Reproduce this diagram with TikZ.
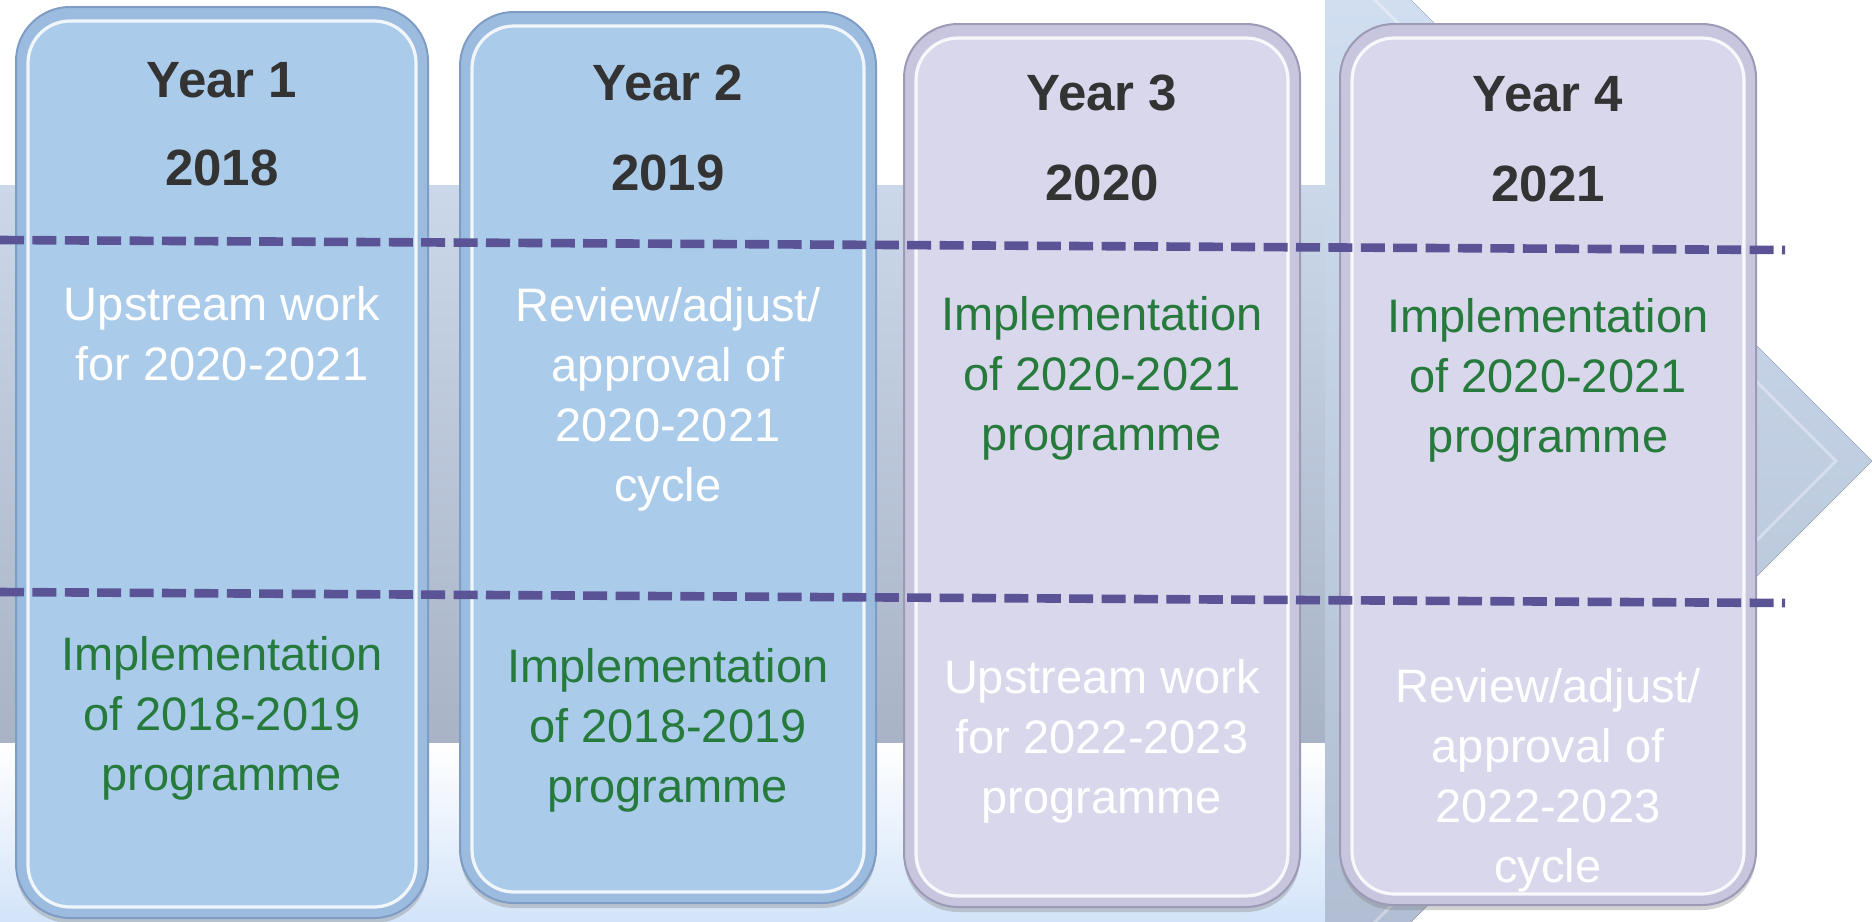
\documentclass[tikz,border=0pt]{standalone}
\usepackage{fontspec}
\setmainfont{Liberation Sans}
\usetikzlibrary{shadows}
\definecolor{yeartext}{HTML}{333333}
\definecolor{greentext}{HTML}{267A3C}
\definecolor{dashcol}{HTML}{5A5496}
\definecolor{bluemain}{HTML}{ABCBEA}
\definecolor{blueband}{HTML}{9CBCDF}
\definecolor{blueedge}{HTML}{7F9DC4}
\definecolor{lilacmain}{HTML}{D9D7EC}
\definecolor{lilacband}{HTML}{C8C5DE}
\definecolor{lilacedge}{HTML}{9D9AB8}
\definecolor{shafttop}{HTML}{CBD8EA}
\definecolor{shaftbot}{HTML}{A8B3C6}
\definecolor{tiptop}{HTML}{D3E1F3}
\definecolor{tipbot}{HTML}{AEBBD0}
\definecolor{glow}{HTML}{D3E4F9}

\begin{document}
\begin{tikzpicture}[x=0.5pt,y=-0.5pt,
   yearbox/.style={rectangle,rounded corners=27pt,line width=1pt,
      drop shadow={shadow xshift=0pt,shadow yshift=-2.5pt,opacity=.35}},
   bluebox/.style={yearbox,draw=blueedge,fill=blueband},
   lilacbox/.style={yearbox,draw=lilacedge,fill=lilacband},
   head/.style={anchor=base,text=yeartext,font=\fontsize{25.5}{30}\selectfont\bfseries},
   body/.style={anchor=base,align=center,font=\fontsize{23.5}{30}\selectfont},
   divider/.style={draw=dashcol,line width=4.3pt,dash pattern=on 12pt off 4.2pt}]
   \useasboundingbox (0,0) rectangle (1872,921);
   \clip (0,0) rectangle (1872,921);

   \fill[top color=white,bottom color=glow] (0,742) rectangle (1325,921);
   \fill[top color=shafttop,bottom color=shaftbot] (0,185) rectangle (1325,742);
   \fill[top color=tiptop,bottom color=tipbot] (1325,-86) -- (1872,461) -- (1325,1008) -- cycle;
   \draw[white,opacity=.35,line width=1.5pt] (1325,-50) -- (1836,461) -- (1325,972);

   \node[bluebox,name=b1,minimum width=206pt,minimum height=455.5pt] at (222,462.5) {};
   \node[bluebox,name=b2,minimum width=208pt,minimum height=445.5pt] at (668,457.5) {};
   \node[lilacbox,name=b3,minimum width=198pt,minimum height=441.5pt] at (1102,465.5) {};
   \node[lilacbox,name=b4,minimum width=208pt,minimum height=440.5pt] at (1548,464.5) {};

   \foreach \b/\c in {b1/bluemain,b2/bluemain,b3/lilacmain,b4/lilacmain}
      \path[draw=white,draw opacity=.85,line width=1.6pt,fill=\c,rounded corners=21pt]
         ([shift={(6.5pt,-7.5pt)}]\b.north west) rectangle ([shift={(-6.5pt,6pt)}]\b.south east);

   \node[head,name=y1] at (222,97) {Year 1};
   \node[head,name=d1] at (222,185) {2018};
   \node[head,name=y2] at (668,100) {Year 2};
   \node[head,name=d2] at (668,190) {2019};
   \node[head,name=y3] at (1102,110) {Year 3};
   \node[head,name=d3] at (1102,200) {2020};
   \node[head,name=y4] at (1548,111) {Year 4};
   \node[head,name=d4] at (1548,201) {2021};

   \node[body,text=white,name=t1] at (222,380) {Upstream work\\for 2020-2021};
   \node[body,text=white,name=t2] at (668,501) {Review/adjust/\\approval of\\2020-2021\\cycle};
   \node[body,text=greentext,name=t3] at (1102,450) {Implementation\\of 2020-2021\\programme};
   \node[body,text=greentext,name=t4] at (1548,452) {Implementation\\of 2020-2021\\programme};

   \node[body,text=greentext,name=l1] at (222,790) {Implementation\\of 2018-2019\\programme};
   \node[body,text=greentext,name=l2] at (668,802) {Implementation\\of 2018-2019\\programme};
   \node[body,text=white,name=l3] at (1102,813) {Upstream work\\for 2022-2023\\programme};
   \node[body,text=white,name=l4] at (1548,882) {Review/adjust/\\approval of\\2022-2023\\cycle};

   \coordinate (up-left) at (0,240);
   \coordinate (up-right) at (1785,250);
   \coordinate (low-left) at (0,592);
   \coordinate (low-right) at (1785,603);
   \path[divider] (up-left) -- (up-right);
   \path[divider] (low-left) -- (low-right);
\end{tikzpicture}
\end{document}
